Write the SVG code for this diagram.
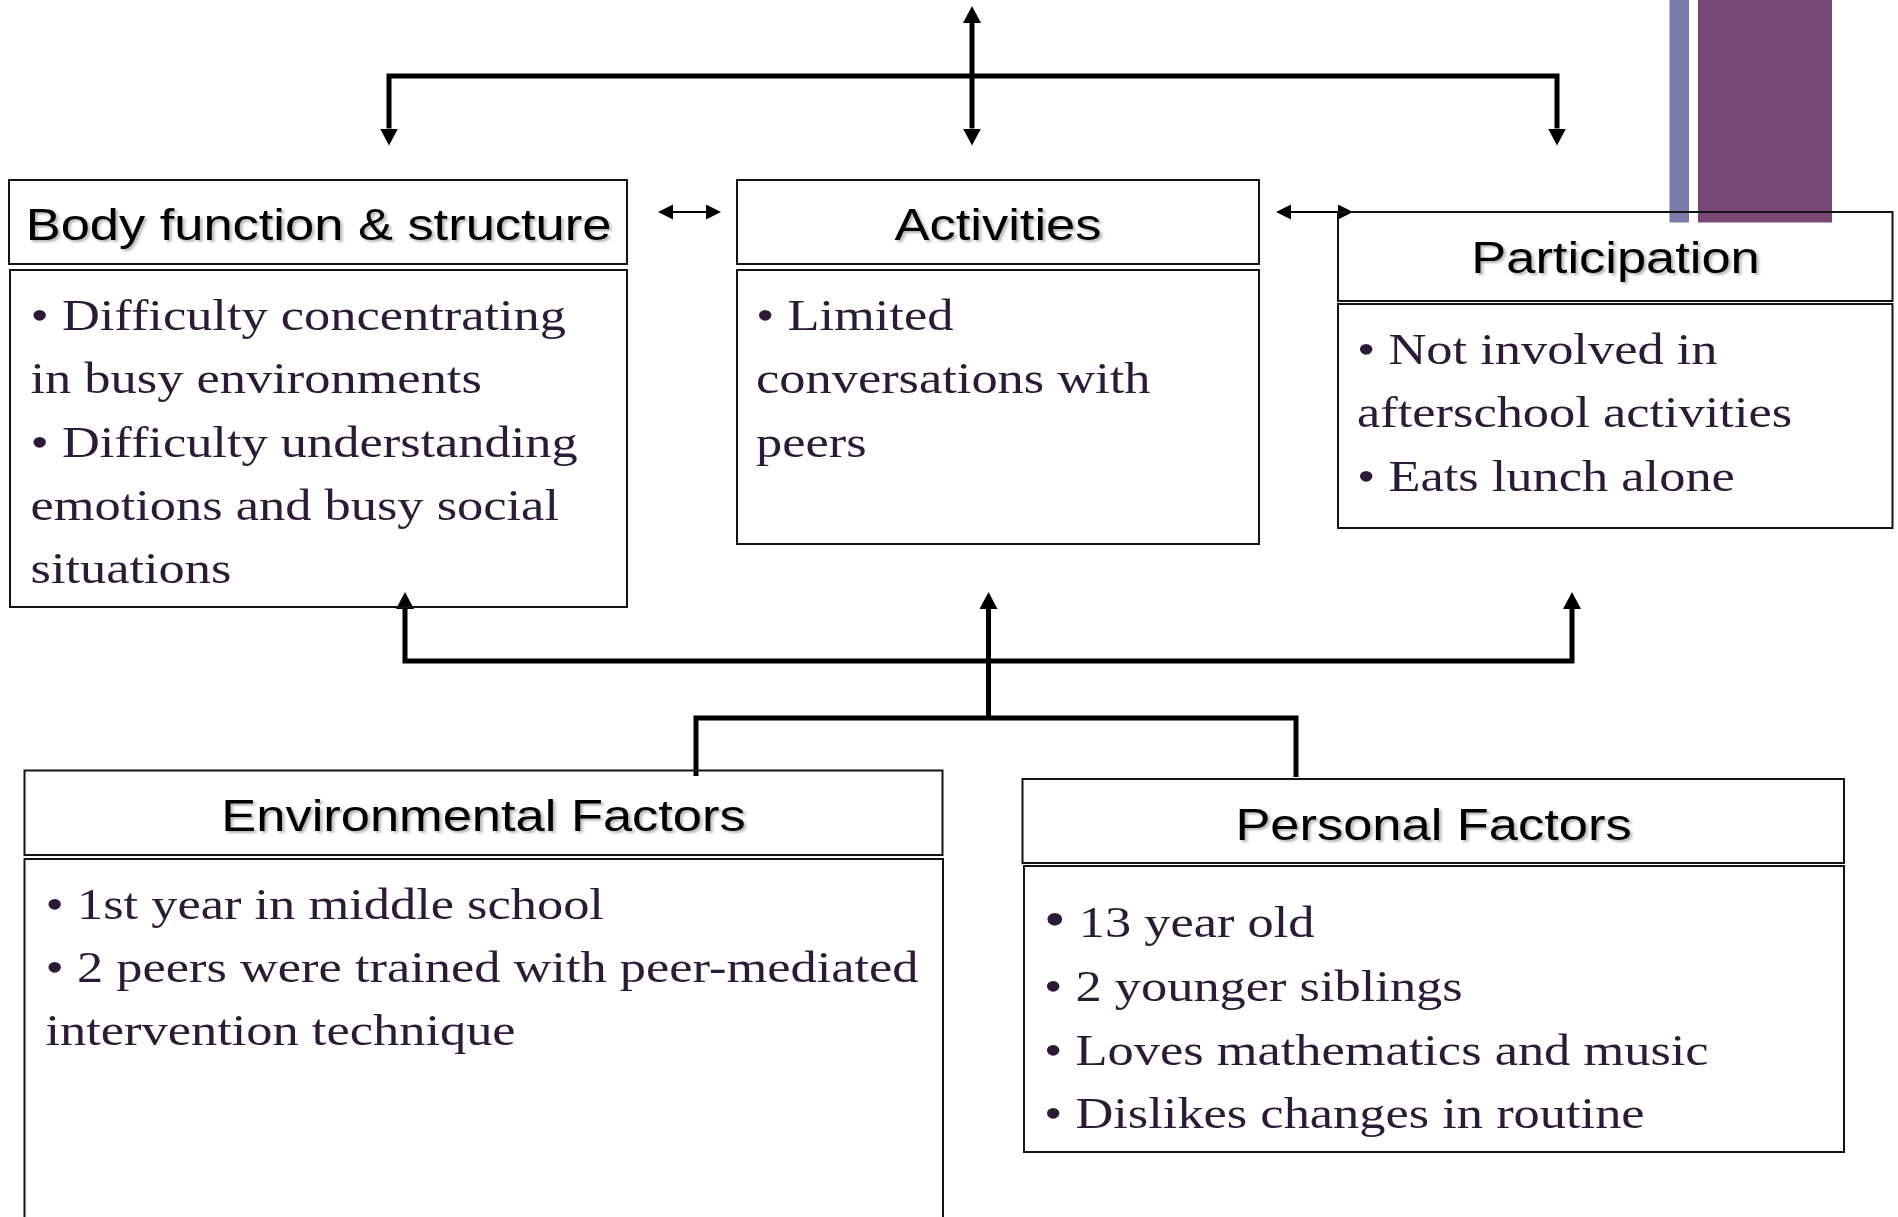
<svg xmlns="http://www.w3.org/2000/svg" width="1898" height="1217" viewBox="0 0 1898 1217">
  <style>
    .box { fill: none; stroke: #141414; stroke-width: 2; }
    .head { font-family: "Liberation Sans", Arial, sans-serif; font-size: 45px; fill: #000; text-anchor: middle; filter: url(#soft); }
    .body { font-family: "Liberation Serif", "Times New Roman", serif; font-size: 45px; fill: #2c1a36; }
    .thick { fill: none; stroke: #000; stroke-width: 5; stroke-linejoin: miter; stroke-linecap: butt; }
    .thin { fill: none; stroke: #000; stroke-width: 2; }
  </style>
  <defs>
    <filter id="soft" x="-5%" y="-20%" width="110%" height="150%">
      <feDropShadow dx="2" dy="2" stdDeviation="1.3" flood-color="#000" flood-opacity="0.3"/>
    </filter>
    <marker id="bigHead" markerUnits="userSpaceOnUse" markerWidth="18" markerHeight="18" refX="0" refY="9" orient="auto-start-reverse" viewBox="0 0 18 18">
      <path d="M0,0 L17,9 L0,18 z" fill="#000"/>
    </marker>
    <marker id="smallHead" markerUnits="userSpaceOnUse" markerWidth="16" markerHeight="16" refX="0" refY="7.5" orient="auto-start-reverse" viewBox="0 0 16 16">
      <path d="M0,0 L15,7.5 L0,15 z" fill="#000"/>
    </marker>
  </defs>

  <rect width="1898" height="1217" fill="#fff"/>

  <!-- accent bars, top right -->
  <g id="accent">
    <rect x="1669.5" y="0" width="19.5" height="222.5" fill="#7a7ba9"/>
    <rect x="1698" y="0" width="134" height="222.5" fill="#7a4876"/>
  </g>

  <!-- connectors -->
  <g id="connectors">
    <path class="thick" d="M389,128.5 V76 H1557 V128.5" marker-end="url(#bigHead)" marker-start="url(#bigHead)"/>
    <path class="thick" d="M972,23 V128.5" marker-start="url(#bigHead)" marker-end="url(#bigHead)"/>
    <path class="thick" d="M405,609 V661 H1572 V609" marker-start="url(#bigHead)" marker-end="url(#bigHead)"/>
    <path class="thick" d="M988.5,718 V609" marker-end="url(#bigHead)"/>
    <path class="thick" d="M696,776 V718 H1296 V777"/>
    <path class="thin" d="M673,212 H706" marker-start="url(#smallHead)" marker-end="url(#smallHead)"/>
    <path class="thin" d="M1291,212 H1338" marker-start="url(#smallHead)" marker-end="url(#smallHead)"/>
  </g>

  <g id="body-function">
    <rect class="box" x="9" y="180" width="618" height="84"/>
    <rect class="box" x="10" y="270" width="617" height="337"/>
    <text class="head" transform="translate(318.5,240) scale(1.165,1)">Body function &amp; structure</text>
    <text class="body" transform="translate(30.5,330) scale(1.165,1)">
      <tspan x="0" y="0">• Difficulty concentrating</tspan>
      <tspan x="0" y="63.3">in busy environments</tspan>
      <tspan x="0" y="126.6">• Difficulty understanding</tspan>
      <tspan x="0" y="189.9">emotions and busy social</tspan>
      <tspan x="0" y="253.2">situations</tspan>
    </text>
  </g>

  <g id="activities">
    <rect class="box" x="737" y="180" width="522" height="84"/>
    <rect class="box" x="737" y="270" width="522" height="274"/>
    <text class="head" transform="translate(998,240) scale(1.165,1)">Activities</text>
    <text class="body" transform="translate(756,330) scale(1.165,1)">
      <tspan x="0" y="0">• Limited</tspan>
      <tspan x="0" y="63.3">conversations with</tspan>
      <tspan x="0" y="126.6">peers</tspan>
    </text>
  </g>

  <g id="participation">
    <rect class="box" x="1338" y="212" width="554.5" height="89"/>
    <rect class="box" x="1338" y="304" width="554.5" height="224"/>
    <text class="head" transform="translate(1615.5,273) scale(1.165,1)">Participation</text>
    <text class="body" transform="translate(1357,364) scale(1.165,1)">
      <tspan x="0" y="0">• Not involved in</tspan>
      <tspan x="0" y="63.5">afterschool activities</tspan>
      <tspan x="0" y="127">• Eats lunch alone</tspan>
    </text>
  </g>

  <g id="environmental-factors">
    <rect class="box" x="24.5" y="770.5" width="918" height="84.5"/>
    <rect class="box" x="24.5" y="859" width="918.5" height="420"/>
    <text class="head" transform="translate(483.5,831) scale(1.165,1)">Environmental Factors</text>
    <text class="body" transform="translate(45.5,919) scale(1.165,1)">
      <tspan x="0" y="0">• 1st year in middle school</tspan>
      <tspan x="0" y="62.8">• 2 peers were trained with peer-mediated</tspan>
      <tspan x="0" y="125.6">intervention technique</tspan>
    </text>
  </g>

  <g id="personal-factors">
    <rect class="box" x="1022.5" y="779" width="821.5" height="84"/>
    <rect class="box" x="1024" y="866" width="820" height="286"/>
    <text class="head" transform="translate(1433.5,840) scale(1.165,1)">Personal Factors</text>
    <text class="body" transform="translate(1044,937) scale(1.165,1)">
      <tspan x="0" y="0"><tspan font-size="53">•</tspan> 13 year old</tspan>
      <tspan x="0" y="64">• 2 younger siblings</tspan>
      <tspan x="0" y="128">• Loves mathematics and music</tspan>
      <tspan x="0" y="191.5">• Dislikes changes in routine</tspan>
    </text>
  </g>
</svg>
